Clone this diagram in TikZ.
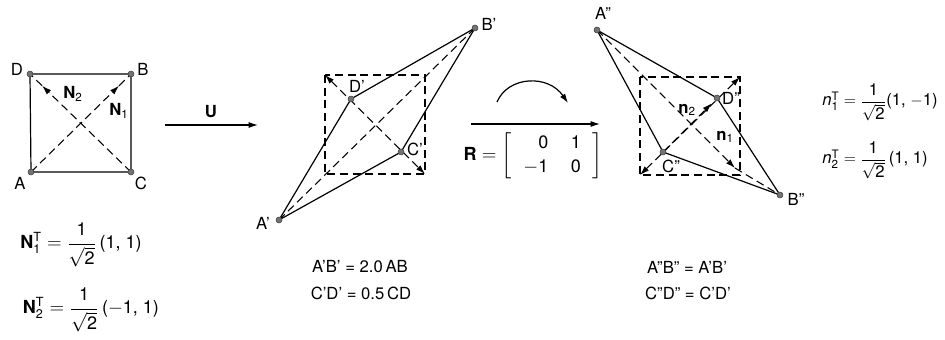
\documentclass[tikz,border=0pt]{standalone}
\usepackage{amsmath}
\usepackage{fontspec}
\setmainfont{TeX Gyre Heros}
\setsansfont{TeX Gyre Heros}
\usetikzlibrary{arrows.meta, positioning, calc}

\newcommand{\tx}[1]{\text{#1}}

\tikzset{
  dot/.style={circle, fill=black!55, draw=black!75, inner sep=0pt, minimum size=4.5pt},
  dsh/.style={line width=0.8pt, dash pattern=on 6pt off 3.5pt},
  edge/.style={line width=0.9pt},
  tip/.style={-{Latex[length=7pt,width=4.5pt]}},
  tips/.style={{Latex[length=7pt,width=4.5pt]}-{Latex[length=7pt,width=4.5pt]}},
  lbl/.style={inner sep=1pt},
  frm/.style={font=\fontsize{13.5}{16}\selectfont}
}

\begin{document}
\begin{tikzpicture}[x=0.75pt, y=-0.75pt, font=\fontsize{12.5}{15}\selectfont]
  \useasboundingbox (0,0) rectangle (945,339);

  % Quadrado ABCD
  \coordinate (A) at (31,172);
  \coordinate (B) at (131,74);
  \coordinate (C) at (131,172);
  \coordinate (D) at (30,74);
  \coordinate (N1) at ($(A)!0.88!(B)$);
  \coordinate (N2) at ($(C)!0.88!(D)$);
  \draw[dsh, tip] (A) -- (N1);
  \draw[dsh] (N1) -- (B);
  \draw[dsh, tip] (C) -- (N2);
  \draw[dsh] (N2) -- (D);
  \draw[edge] (A) -- (C) -- (B) -- (D) -- cycle;
  \foreach \p in {A,B,C,D}
    \node[dot] (d\p) at (\p) {};
  \node[lbl] (lA) at (20,183) {A};
  \node[lbl] (lB) at (143,69) {B};
  \node[lbl] (lC) at (141,183) {C};
  \node[lbl] (lD) at (17,69) {D};
  \node[lbl] (lN2) at (73,94) {$\mathbf{N}_{\tx{2}}$};
  \node[lbl] (lN1) at (119,111) {$\mathbf{N}_{\tx{1}}$};

  \node[frm] (fN1) at (81,245) {$\mathbf{N}_{\tx{1}}^{\tx{T}} = \dfrac{\tx{1}}{\sqrt{\tx{2}}}\,\tx{(1, 1)}$};
  \node[frm] (fN2) at (91,310) {$\mathbf{N}_{\tx{2}}^{\tx{T}} = \dfrac{\tx{1}}{\sqrt{\tx{2}}}\,\tx{(}{-}\tx{1, 1)}$};

  % U
  \coordinate (u0) at (165,125);
  \coordinate (u1) at (258,125);
  \draw[edge, tip] (u0) -- (u1);
  \node[lbl] (lU) at (211,112) {$\mathbf{U}$};

  % A'B'C'D'
  \coordinate (A1) at (279,220);
  \coordinate (B1) at (475,28);
  \coordinate (C1) at (401,152);
  \coordinate (D1) at (351,99);
  \coordinate (sq1) at (325,75);
  \coordinate (sq2) at (425,174);
  \draw[dsh] (sq1) rectangle (sq2);
  \draw[dsh, tips] (sq1) -- (sq2);
  \draw[dsh] (A1) -- (B1);
  \draw[edge] (A1) -- (D1) -- (B1) -- (C1) -- cycle;
  \foreach \p in {A1,B1,C1,D1}
    \node[dot] (d\p) at (\p) {};
  \node[lbl] (lA1) at (263,223) {A'};
  \node[lbl] (lB1) at (489,24) {B'};
  \node[lbl] (lC1) at (415,149) {C'};
  \node[lbl] (lD1) at (357,86) {D'};

  \node (tAB1) at (360,267) {A'B' = 2.0\,AB};
  \node (tCD1) at (361,293) {C'D' = 0.5\,CD};

  % R
  \coordinate (r0) at (471,124);
  \coordinate (r1) at (600,124);
  \draw[edge, tip] (r0) -- (r1);
  \coordinate (c0) at (497,102);
  \coordinate (c1) at (568,103);
  \draw[edge, tip] (c0) .. controls (508,76) and (548,74) .. (c1);
  \node[frm] (mR) at (533,156) {$\mathbf{R} = \arraycolsep=8.5pt\renewcommand{\arraystretch}{1.1}
    \left[\begin{array}{rr} \tx{0} & \tx{1}\\ {-}\tx{1} & \tx{0} \end{array}\right]$};

  % A''B''C''D''
  \coordinate (A2) at (597,30);
  \coordinate (B2) at (780,195);
  \coordinate (C2) at (663,152);
  \coordinate (D2) at (717,98);
  \coordinate (tl2) at (640,77);
  \coordinate (br2) at (740,175);
  \coordinate (bl2) at (640,175);
  \coordinate (tr2) at (740,77);
  \coordinate (n1) at (735,168);
  \coordinate (n2) at ($(C2)!0.9!(D2)$);
  \draw[dsh] (tl2) rectangle (br2);
  \draw[dsh, tips] (bl2) -- (tr2);
  \draw[dsh, tip] (C2) -- (n2);
  \draw[dsh, tip] (A2) -- (n1);
  \draw[dsh] (n1) -- (B2);
  \draw[edge] (A2) -- (D2) -- (B2) -- (C2) -- cycle;
  \foreach \p in {A2,B2,C2,D2}
    \node[dot] (d\p) at (\p) {};
  \node[lbl] (lA2) at (603,13) {A''};
  \node[lbl] (lB2) at (796,199) {B''};
  \node[lbl] (lC2) at (671,166) {C''};
  \node[lbl] (lD2) at (731,98) {D''};
  \node[lbl] (ln2) at (687,110) {$\mathbf{n}_{\tx{2}}$};
  \node[lbl] (ln1) at (725,137) {$\mathbf{n}_{\tx{1}}$};

  \node (tAB2) at (687,267) {A''B'' = A'B'};
  \node (tCD2) at (688,293) {C''D'' = C'D'};

  \node (fn1) at (880,102) {$\mathit{n}_{\tx{1}}^{\tx{T}} = \dfrac{\tx{1}}{\sqrt{\tx{2}}}\tx{(1, }{-}\tx{1)}$};
  \node (fn2) at (875,160) {$\mathit{n}_{\tx{2}}^{\tx{T}} = \dfrac{\tx{1}}{\sqrt{\tx{2}}}\,\tx{(1, 1)}$};
\end{tikzpicture}
\end{document}
